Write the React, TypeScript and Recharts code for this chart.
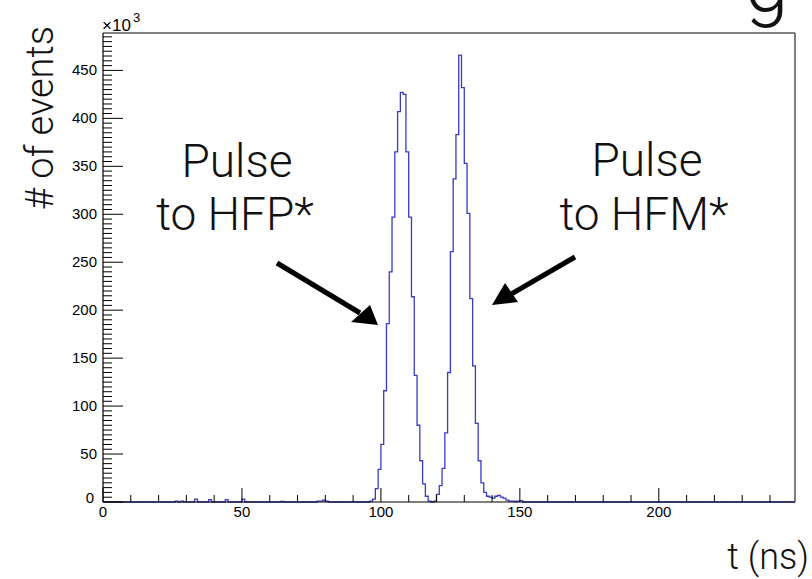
import { LineChart, Line, XAxis, YAxis } from 'recharts'

// counts in units of 10^3, one bin per ns, starting at t = 96 ns
const binStart = 96
const binCounts = [
	1, 3, 14, 34, 60, 116, 186, 240, 297, 365, 407, 427, 425, 365, 297, 214, 132, 80, 43, 19, 6, 1, 0, 1,
	8, 17, 35, 72, 135, 261, 337, 383, 466, 432, 353, 301, 212, 142, 82, 43, 20, 10, 6, 5, 4, 6, 7, 5, 4,
	2, 1, 1, 0.5, 1, 1.5, 0,
]

// stray low bins before the pulses
const noiseTimes = [26, 28, 33, 38, 44, 50, 64, 77, 78, 79, 80]
const noiseCounts = [1, 1, 3, 2.5, 2.5, 3, 0.5, 1, 1, 2, 1]

const xTicks = [0, 10, 20, 30, 40, 50, 60, 70, 80, 90, 100, 110, 120, 130, 140, 150, 160, 170, 180, 190, 200, 210, 220, 230, 240]
const xLabels = [0, 50, 100, 150, 200]
const yLabels = [0, 50, 100, 150, 200, 250, 300, 350, 400, 450]
// minor y ticks every 5 (x10^3)
const yTicks: number[] = []
for (let v = 0; v <= 485; v += 5) yTicks.push(v)

const X_MAX = 249
const Y_MAX = 489

const data: { t: number; n: number }[] = []
for (let t = 0; t <= X_MAX; t++) {
	let n = 0
	const k = t - binStart
	if (k >= 0 && k < binCounts.length) n = binCounts[k]
	const j = noiseTimes.indexOf(t)
	if (j >= 0) n = noiseCounts[j]
	data.push({ t, n })
}

const labelFont = '"Liberation Sans", Arial, sans-serif'
const bigFont = 'Roboto, "Open Sans", sans-serif'

function YTick(props: any) {
	const { x, y, payload } = props
	const v = payload.value
	const major = yLabels.includes(v)
	return (
		<g>
			<line x1={x} x2={x + (major ? 20 : 9)} y1={y} y2={y} stroke="#000" strokeWidth={1} />
			{major && (
				<text
					x={v === 0 ? x - 9 : x - 6}
					y={v === 0 ? y - 4 : y}
					dy={5}
					textAnchor="end"
					fontSize={15}
					fontFamily={labelFont}
					fill="#000"
				>
					{v}
				</text>
			)}
		</g>
	)
}

function XTick(props: any) {
	const { x, y, payload } = props
	const v = payload.value
	const major = xLabels.includes(v)
	return (
		<g>
			<line x1={x} x2={x} y1={y} y2={y - (major ? 14 : 7)} stroke="#000" strokeWidth={1} />
			{major && (
				<text x={x} y={y + 15} textAnchor="middle" fontSize={15} fontFamily={labelFont} fill="#000">
					{v}
				</text>
			)}
		</g>
	)
}

export default function App() {
	return (
		<div style={{ position: 'absolute', left: 0, top: 0, width: 812, height: 579, background: '#fff' }}>
			<LineChart width={812} height={579} data={data} margin={{ top: 23, right: 7, bottom: 47, left: 43 }}>
				<XAxis
					xAxisId="b"
					dataKey="t"
					type="number"
					domain={[0, X_MAX]}
					ticks={xTicks}
					height={30}
					tickSize={0}
					tickMargin={0}
					tickLine={false}
					tick={<XTick />}
					axisLine={{ stroke: '#000', strokeWidth: 1.2 }}
					interval={0}
				/>
				<XAxis
					xAxisId="top"
					orientation="top"
					dataKey="t"
					type="number"
					domain={[0, X_MAX]}
					height={10}
					tick={false}
					tickLine={false}
					axisLine={{ stroke: '#000' }}
				/>
				<YAxis
					yAxisId="l"
					type="number"
					domain={[0, Y_MAX]}
					ticks={yTicks}
					width={60}
					tickSize={0}
					tickMargin={0}
					tickLine={false}
					tick={<YTick />}
					axisLine={{ stroke: '#000', strokeWidth: 1.2 }}
					interval={0}
				/>
				<YAxis
					yAxisId="r"
					orientation="right"
					type="number"
					domain={[0, Y_MAX]}
					width={10}
					tick={false}
					tickLine={false}
					axisLine={{ stroke: '#555', strokeWidth: 1.5 }}
				/>
				<Line
					xAxisId="b"
					yAxisId="l"
					type="stepAfter"
					dataKey="n"
					stroke="#3a3ac8"
					strokeWidth={1.3}
					dot={false}
					isAnimationActive={false}
				/>
			</LineChart>
			<svg width={812} height={579} style={{ position: 'absolute', left: 0, top: 0, pointerEvents: 'none' }}>
				<text x={102} y={31} fontSize={17} fontFamily={labelFont} fill="#000">
					×10
				</text>
				<text x={133} y={22} fontSize={13} fontFamily={labelFont} fill="#000">
					3
				</text>
				<text transform="translate(53,118) rotate(-90)" textAnchor="middle" fontSize={38} fontWeight={300} fontFamily={bigFont} fill="#111">
					# of events
				</text>
				<text x={809} y={569} textAnchor="end" fontSize={36} fontWeight={300} fontFamily={bigFont} fill="#111">
					t (ns)
				</text>
				<text x={745} y={12} fontSize={78} fontWeight={300} fontFamily={bigFont} fill="#111">
					g
				</text>
				<g fontSize={46} fontWeight={300} fontFamily={bigFont} fill="#111" textAnchor="middle">
					<text x={237} y={177}>Pulse</text>
					<text x={235} y={230}>to HFP*</text>
					<text x={647} y={176}>Pulse</text>
					<text x={644} y={230}>to HFM*</text>
				</g>
				<line x1={277} y1={263} x2={360} y2={313} stroke="#000" strokeWidth={5} />
				<polygon points="351,322 378,325 370,305" fill="#000" />
				<line x1={575} y1={257} x2={506} y2={297} stroke="#000" strokeWidth={5} />
				<polygon points="492,305 505,283 518,302" fill="#000" />
			</svg>
		</div>
	)
}
